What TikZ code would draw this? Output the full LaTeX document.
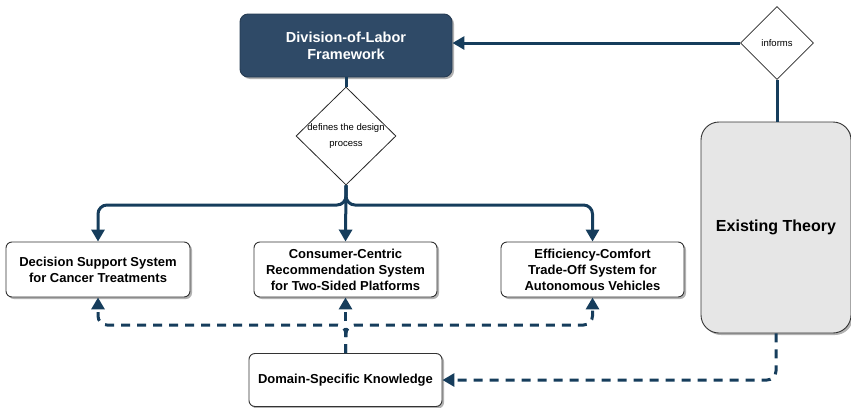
\documentclass[tikz,border=0pt]{standalone}
\usepackage{fontspec}
\setmainfont{Liberation Sans}
\usetikzlibrary{shapes.geometric,arrows.meta,shadows}
\definecolor{navy}{HTML}{163D5C}
\definecolor{fwfill}{HTML}{2F4A67}
\definecolor{etfill}{HTML}{E6E6E6}
\begin{document}
\begin{tikzpicture}[x=1pt,y=-1pt,
  sbox/.style={draw=black!80, line width=0.9pt, fill=white, rounded corners=6pt,
    align=center, inner sep=2pt, font=\bfseries\fontsize{13}{16}\selectfont,
    drop shadow={shadow xshift=2pt,shadow yshift=-2pt,fill=black,opacity=0.3}},
  dia/.style={draw=black!85, line width=0.8pt, fill=white, diamond, inner sep=0pt},
  dtext/.style={font=\fontsize{9.5}{16}\selectfont, align=center},
  conn/.style={draw=navy, line width=3pt, -{Triangle[width=13pt,length=12pt]}},
  plain/.style={draw=navy, line width=3pt},
  dconn/.style={conn, dash pattern=on 9pt off 7pt},
  dplain/.style={plain, dash pattern=on 9pt off 7pt}]
\useasboundingbox (0,0) rectangle (851,407);

% nodes
\node[sbox, fill=fwfill, draw=fwfill!80!black, text=white, rounded corners=8pt,
  minimum width=212pt, minimum height=63pt, font=\bfseries\fontsize{14.5}{17}\selectfont]
  (fw) at (346,45.5) {Division-of-Labor\\Framework};
\node[dia, minimum width=100pt, minimum height=98pt] (d1) at (346,136) {};
\node[dtext] (d1t) at (d1.center) {defines the design\\process};
\node[dia, minimum width=73pt, minimum height=73pt] (d2) at (777,43) {};
\node[dtext] (d2t) at (d2.center) {informs};
\node[sbox, fill=etfill, rounded corners=18pt, minimum width=150pt, minimum height=211pt,
  font=\bfseries\fontsize{16}{19}\selectfont] (et) at (776,227.5) {\raisebox{-3pt}{Existing Theory}};
\node[sbox, minimum width=184pt, minimum height=55pt] (b1) at (98,269.5)
  {Decision Support System\\for Cancer Treatments};
\node[sbox, minimum width=183pt, minimum height=55pt] (b2) at (345.5,269.5)
  {Consumer-Centric\\Recommendation System\\for Two-Sided Platforms};
\node[sbox, minimum width=183pt, minimum height=55pt] (b3) at (592.5,269.5)
  {Efficiency-Comfort\\Trade-Off System for\\Autonomous Vehicles};
\node[sbox, minimum width=193pt, minimum height=53pt] (dom) at (345.5,380)
  {Domain-Specific Knowledge};

\coordinate (j1) at (346,205);
\coordinate (j2) at (346,325);

% solid connectors
\draw[plain] (fw.south) -- (d1.north);
\draw[plain] (d2.south) -- (d2.south |- et.north);
\draw[conn] (d2.west) -- (d2.west -| fw.east);
\draw[conn, rounded corners=9pt] (d1.south) -- (j1) -| (b1.north);
\draw[conn, rounded corners=9pt] (d1.south) -- (j1) -| (b3.north);
\draw[conn] (d1.south) -- (b2.north);

% dashed connectors
\draw[dconn, rounded corners=9pt] (dom.north) -- (j2) -| (b1.south);
\draw[dconn, rounded corners=9pt] (dom.north) -- (j2) -| (b3.south);
\draw[dconn] (dom.north) -- (b2.south);
\draw[dconn, rounded corners=9pt] (et.south) |- (dom.east);
\end{tikzpicture}
\end{document}
